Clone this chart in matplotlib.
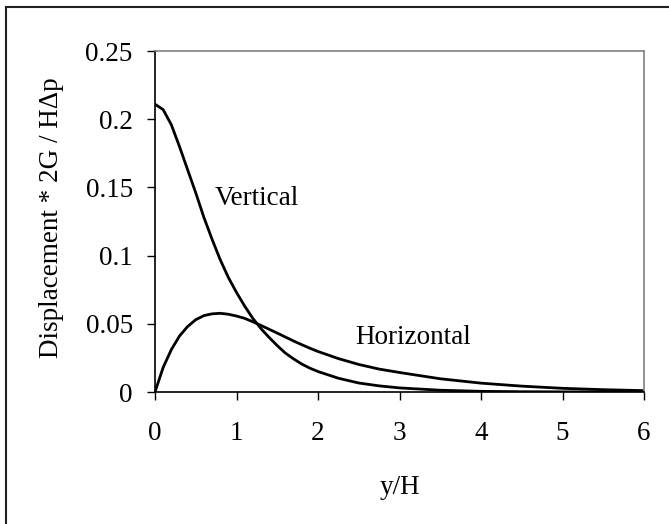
import matplotlib
matplotlib.use("Agg")
import matplotlib.pyplot as plt
from matplotlib.lines import Line2D

# Data
x_vals = [0, 0.1, 0.2, 0.3, 0.4, 0.5, 0.6, 0.7, 0.8, 0.9, 1.0, 1.1, 1.2, 1.3, 1.4,
          1.5, 1.6, 1.7, 1.8, 1.9, 2.0, 2.25, 2.5, 2.75, 3.0, 3.5, 4.0, 4.5, 5.0, 5.5, 6.0]
vertical = [0.211, 0.207, 0.196, 0.180, 0.163, 0.146, 0.128, 0.112, 0.097, 0.084,
            0.073, 0.063, 0.054, 0.0465, 0.040, 0.034, 0.0285, 0.0243, 0.0205, 0.0175,
            0.015, 0.0101, 0.0066, 0.0045, 0.003, 0.0013, 0.0005, 0.0002, 0.0001,
            0.00005, 0.0]
horizontal = [0.0, 0.018, 0.031, 0.041, 0.048, 0.053, 0.056, 0.0573, 0.0577, 0.057,
              0.0557, 0.054, 0.0515, 0.0488, 0.046, 0.0432, 0.0403, 0.0374, 0.0347,
              0.0321, 0.0297, 0.0245, 0.0202, 0.0168, 0.0143, 0.0097, 0.0065, 0.0043,
              0.0027, 0.0017, 0.001]
x_ticks = [0, 1, 2, 3, 4, 5, 6]
x_tick_labels = ["0", "1", "2", "3", "4", "5", "6"]
y_ticks = [0, 0.05, 0.1, 0.15, 0.2, 0.25]
y_tick_labels = ["0", "0.05", "0.1", "0.15", "0.2", "0.25"]

plt.rcParams['font.family'] = ['Liberation Serif', 'DejaVu Serif']
FS = 19.5

fig = plt.figure(figsize=(6.69, 5.24), dpi=100)
ax = fig.add_axes([155/669, 1 - 392/524, (644 - 155)/669, (392 - 51)/524])

ax.plot(x_vals, vertical, color='black', lw=2.0, solid_joinstyle='round')
ax.plot(x_vals, horizontal, color='black', lw=2.0, solid_joinstyle='round')

ax.set_xlim(0, 6)
ax.set_ylim(0, 0.25)
ax.set_xticks(x_ticks)
ax.set_xticklabels(x_tick_labels)
ax.set_yticks(y_ticks)
ax.set_yticklabels(y_tick_labels)

ax.tick_params(axis='both', direction='out', length=6, width=1.0, colors='black',
               labelsize=FS)
ax.tick_params(axis='y', pad=10)
ax.tick_params(axis='x', pad=15)

for s in ['left', 'bottom']:
    ax.spines[s].set_color('#000000')
    ax.spines[s].set_linewidth(1.2)
for s in ['top', 'right']:
    ax.spines[s].set_color('#808080')
    ax.spines[s].set_linewidth(1.2)

ax.set_xlabel('y/H', fontsize=FS)
ax.xaxis.label.set_va('center')
ax.xaxis.set_label_coords(0.5, (392 - 487) / 341)
ax.set_ylabel('Displacement * 2G / H\u0394p', fontsize=FS)
ax.yaxis.label.set_va('center')
ax.yaxis.set_label_coords((52 - 155) / 489, 0.51)

ax.text(1.25, 0.142, 'Vertical', fontsize=FS, ha='center', va='center')
ax.text(3.17, 0.0396, 'Horizontal', fontsize=FS, ha='center', va='center')

# outer chart border (left and top visible)
bx = 6.5 / 669
by = 1 - 7 / 524
fig.add_artist(Line2D([bx, bx], [-0.1, by], transform=fig.transFigure,
                      color='#202020', lw=1.5))
fig.add_artist(Line2D([bx, 1.1], [by, by], transform=fig.transFigure,
                      color='#202020', lw=1.5))

fig.savefig('out.png', dpi=100)
